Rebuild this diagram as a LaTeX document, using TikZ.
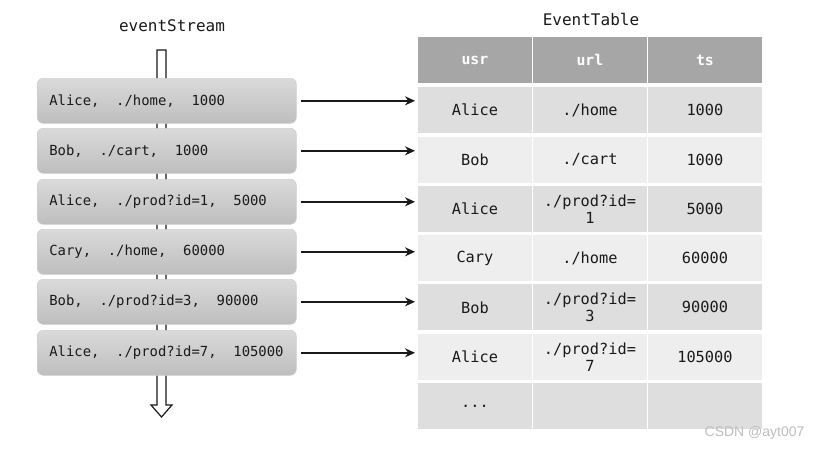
\documentclass[tikz,border=0pt]{standalone}
\usepackage{fontspec}
\setmonofont{DejaVu Sans Mono}
\newfontfamily\wmfont{Liberation Sans}
\usetikzlibrary{arrows.meta}
\newcommand\msp{\hphantom{0}}
\definecolor{txt}{HTML}{1A1A1A}
\definecolor{boxtop}{HTML}{DADADA}
\definecolor{boxbot}{HTML}{BEBEBE}
\definecolor{boxline}{HTML}{CFCFCF}
\definecolor{hdr}{HTML}{A6A6A6}
\definecolor{rowdark}{HTML}{DEDEDE}
\definecolor{rowlight}{HTML}{EEEEEE}
\definecolor{wm}{HTML}{BEBEBE}
\tikzset{
  evbox/.style={anchor=north west, rounded corners=6pt, draw=boxline, line width=0.6pt,
    top color=boxtop, bottom color=boxbot, minimum height=45pt, text width=235pt,
    inner xsep=12pt, inner ysep=0pt, align=left, font=\ttfamily\fontsize{13.9}{16}\selectfont, text=txt},
  cell/.style={anchor=north west, minimum width=113.5pt, minimum height=46pt, inner sep=0pt,
    align=center, font=\ttfamily\fontsize{15.3}{17}\selectfont, text=txt},
  hcell/.style={cell, fill=hdr, text=white, font=\ttfamily\bfseries\fontsize{14.8}{17}\selectfont},
  dcell/.style={cell, fill=rowdark},
  lcell/.style={cell, fill=rowlight},
  title/.style={font=\ttfamily\fontsize{16}{18}\selectfont, text=txt},
  flow/.style={-{Stealth[length=10pt,width=9pt]}, line width=1.6pt, draw=txt},
}
\begin{document}
\begin{tikzpicture}[x=1pt,y=-1pt]
\useasboundingbox[fill=white] (0,0) rectangle (823,448);
% titles
\node[title] (ttl1) at (172,26) {eventStream};
\node[title] (ttl2) at (591,19) {EventTable};
% stream shaft arrow
\draw[fill=white, draw=txt, line width=1.2pt, line join=miter]
  (157,50) -- (166,50) -- (166,405) -- (172,405) -- (161.5,417) -- (151,405) -- (157,405) -- cycle;
% event boxes
\node[evbox] (b1) at (37,78) {Alice,\msp\msp./home,\msp\msp1000};
\node[evbox] (b2) at (37,128) {Bob,\msp\msp./cart,\msp\msp1000};
\node[evbox] (b3) at (37,179) {Alice,\msp\msp./prod?id=1,\msp\msp5000};
\node[evbox] (b4) at (37,229) {Cary,\msp\msp./home,\msp\msp60000};
\node[evbox] (b5) at (37,279) {Bob,\msp\msp./prod?id=3,\msp\msp90000};
\node[evbox] (b6) at (37,330) {Alice,\msp\msp./prod?id=7,\msp\msp105000};
% table header
\node[hcell] (h1) at (418,37) {usr};
\node[hcell] (h2) at (533,37) {url};
\node[hcell] (h3) at (648,37) {ts};
% rows
\node[dcell] (r1a) at (418,87) {Alice};
\node[dcell] (r1b) at (533,87) {./home};
\node[dcell] (r1c) at (648,87) {1000};
\node[lcell] (r2a) at (418,136.3) {Bob};
\node[lcell] (r2b) at (533,136.3) {./cart};
\node[lcell] (r2c) at (648,136.3) {1000};
\node[dcell] (r3a) at (418,185.6) {Alice};
\node[dcell] (r3b) at (533,185.6) {./prod?id=\\1};
\node[dcell] (r3c) at (648,185.6) {5000};
\node[lcell] (r4a) at (418,234.9) {Cary};
\node[lcell] (r4b) at (533,234.9) {./home};
\node[lcell] (r4c) at (648,234.9) {60000};
\node[dcell] (r5a) at (418,284.2) {Bob};
\node[dcell] (r5b) at (533,284.2) {./prod?id=\\3};
\node[dcell] (r5c) at (648,284.2) {90000};
\node[lcell] (r6a) at (418,333.5) {Alice};
\node[lcell] (r6b) at (533,333.5) {./prod?id=\\7};
\node[lcell] (r6c) at (648,333.5) {105000};
\node[dcell] (r7a) at (418,382.8) {...};
\node[dcell] (r7b) at (533,382.8) {};
\node[dcell] (r7c) at (648,382.8) {};
% arrows
\coordinate (tl) at (415,0);
\foreach \i in {1,...,6}{
  \draw[flow] ([xshift=4pt]b\i.east) -- (b\i.east -| tl);
}
% watermark
\node[text=wm, font=\wmfont\fontsize{14}{16}\selectfont, anchor=east] (wmk) at (808,433) {CSDN @ayt007};
\end{tikzpicture}
\end{document}
